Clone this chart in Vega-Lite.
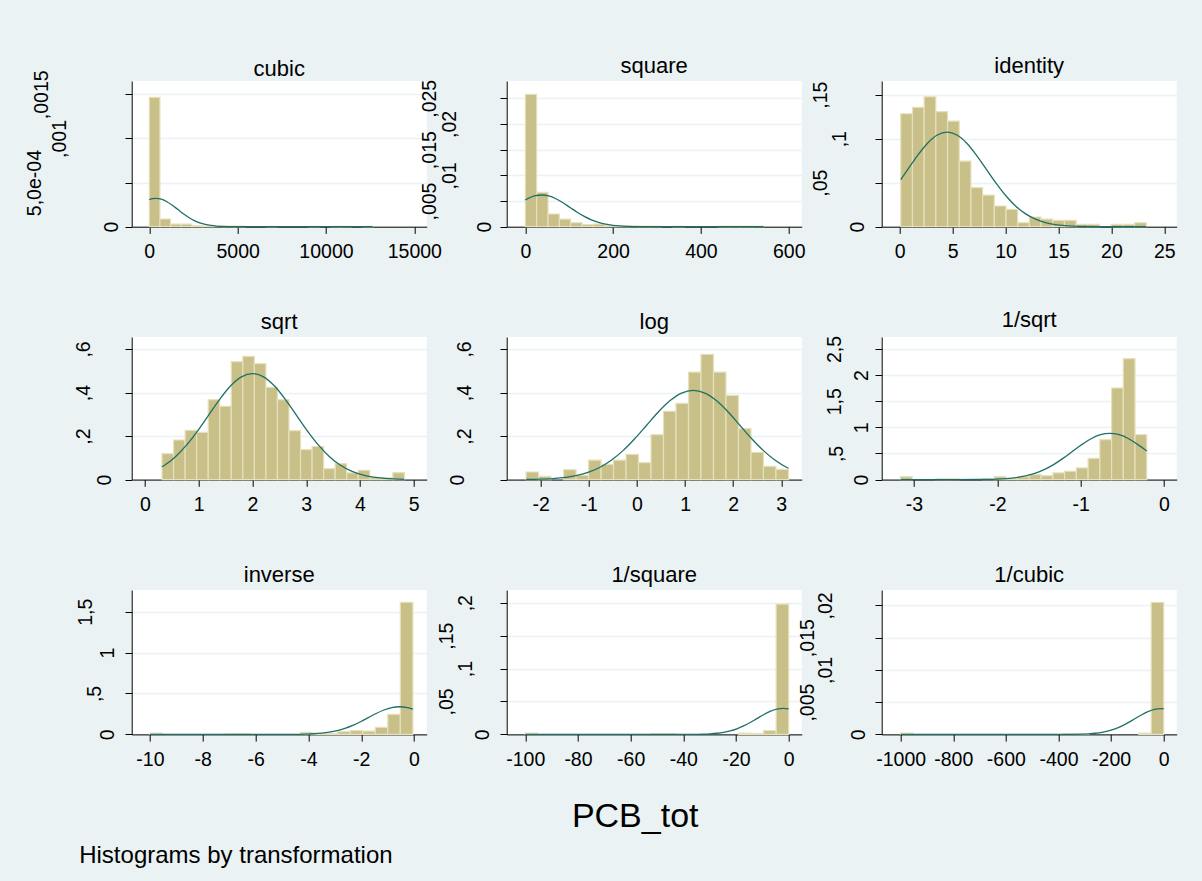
{
  "$schema": "https://vega.github.io/schema/vega-lite/v6.json",
  "autosize": {"type": "none"},
  "padding": {"left": 131.7, "top": 81, "right": 1070.3, "bottom": 800},
  "background": "#EAF2F3",
  "config": {
    "font": "Liberation Sans",
    "view": {"stroke": null, "fill": "white"},
    "axis": {"domainColor": "#000", "domainWidth": 1, "tickColor": "#000", "tickWidth": 1, "tickSize": 6.7, "labelFont": "Liberation Sans", "labelFontSize": 19.5, "labelColor": "#000", "labelFlush": false, "labelOverlap": false, "titleFont": "Liberation Sans", "titleColor": "#000", "titleFontWeight": "normal", "gridColor": "#EAF2F3", "gridWidth": 1.3},
    "axisX": {"grid": false, "labelPadding": 9.5, "labelOverlap": false, "labelExpr": "toString(datum.value)"},
    "axisY": {"grid": true, "labelAngle": 270, "labelAlign": "center", "labelBaseline": "alphabetic", "labelOverlap": false, "labelExpr": "datum.value == 0 ? '0' : datum.value < 0.0009 ? '5,0e-04' : datum.value < 1 ? ',' + substring(toString(datum.value), 2) : replace(toString(datum.value), '.', ',')"},
    "title": {"font": "Liberation Sans", "fontSize": 22, "fontWeight": "normal", "color": "#000", "offset": 3, "baseline": "alphabetic", "anchor": "middle", "frame": "group"}
  },
  "datasets": {
    "bars": [
      {"t":"cubic","x":0.001,"x1":602.3,"y":0.001466},
      {"t":"cubic","x":602.3,"x1":1204.7,"y":0.000087},
      {"t":"cubic","x":1204.7,"x1":1807,"y":0.00003},
      {"t":"cubic","x":1807,"x1":2409.3,"y":0.00003},
      {"t":"cubic","x":2409.3,"x1":3011.6,"y":0.000011},
      {"t":"cubic","x":3011.6,"x1":3614,"y":0.000007},
      {"t":"cubic","x":3614,"x1":4216.3,"y":0.000007},
      {"t":"cubic","x":4216.3,"x1":4818.6,"y":0.000007},
      {"t":"cubic","x":4818.6,"x1":5421,"y":0.000007},
      {"t":"cubic","x":6625.6,"x1":7228,"y":0.000004},
      {"t":"cubic","x":9034.9,"x1":9637.3,"y":0.000004},
      {"t":"cubic","x":10239.6,"x1":10842,"y":0.000004},
      {"t":"cubic","x":10842,"x1":11444.3,"y":0.000004},
      {"t":"cubic","x":12046.6,"x1":12649,"y":0.000004},

      {"t":"square","x":0.01,"x1":25.86,"y":0.02578},
      {"t":"square","x":25.86,"x1":51.71,"y":0.00669},
      {"t":"square","x":51.71,"x1":77.56,"y":0.00247},
      {"t":"square","x":77.56,"x1":103.41,"y":0.00149},
      {"t":"square","x":103.41,"x1":129.26,"y":0.00078},
      {"t":"square","x":129.26,"x1":155.11,"y":0.00039},
      {"t":"square","x":155.11,"x1":180.96,"y":0.00052},
      {"t":"square","x":180.96,"x1":206.81,"y":0.00026},
      {"t":"square","x":206.81,"x1":232.66,"y":0.00017},
      {"t":"square","x":232.66,"x1":258.51,"y":0.00017},
      {"t":"square","x":258.51,"x1":284.36,"y":0.00009},
      {"t":"square","x":284.36,"x1":310.21,"y":0.00009},
      {"t":"square","x":336.06,"x1":361.91,"y":0.00009},
      {"t":"square","x":439.46,"x1":465.31,"y":0.00009},
      {"t":"square","x":465.31,"x1":491.16,"y":0.00009},
      {"t":"square","x":491.16,"x1":517.01,"y":0.00009},
      {"t":"square","x":517.01,"x1":542.86,"y":0.00009},

      {"t":"identity","x":0.1,"x1":1.205,"y":0.1284},
      {"t":"identity","x":1.205,"x1":2.31,"y":0.1356},
      {"t":"identity","x":2.31,"x1":3.414,"y":0.1477},
      {"t":"identity","x":3.414,"x1":4.519,"y":0.1307},
      {"t":"identity","x":4.519,"x1":5.624,"y":0.120},
      {"t":"identity","x":5.624,"x1":6.729,"y":0.0746},
      {"t":"identity","x":6.729,"x1":7.834,"y":0.0443},
      {"t":"identity","x":7.834,"x1":8.938,"y":0.036},
      {"t":"identity","x":8.938,"x1":10.043,"y":0.0235},
      {"t":"identity","x":10.043,"x1":11.148,"y":0.0197},
      {"t":"identity","x":11.148,"x1":12.253,"y":0.0045},
      {"t":"identity","x":12.253,"x1":13.357,"y":0.011},
      {"t":"identity","x":13.357,"x1":14.462,"y":0.0087},
      {"t":"identity","x":14.462,"x1":15.567,"y":0.0072},
      {"t":"identity","x":15.567,"x1":16.671,"y":0.0072},
      {"t":"identity","x":16.671,"x1":17.776,"y":0.0027},
      {"t":"identity","x":17.776,"x1":18.881,"y":0.0027},
      {"t":"identity","x":19.986,"x1":21.09,"y":0.0027},
      {"t":"identity","x":21.09,"x1":22.195,"y":0.0027},
      {"t":"identity","x":22.195,"x1":23.3,"y":0.0045},

      {"t":"sqrt","x":0.316,"x1":0.531,"y":0.119},
      {"t":"sqrt","x":0.531,"x1":0.746,"y":0.182},
      {"t":"sqrt","x":0.746,"x1":0.961,"y":0.226},
      {"t":"sqrt","x":0.961,"x1":1.176,"y":0.217},
      {"t":"sqrt","x":1.176,"x1":1.390,"y":0.367},
      {"t":"sqrt","x":1.390,"x1":1.605,"y":0.337},
      {"t":"sqrt","x":1.605,"x1":1.820,"y":0.542},
      {"t":"sqrt","x":1.820,"x1":2.035,"y":0.566},
      {"t":"sqrt","x":2.035,"x1":2.250,"y":0.533},
      {"t":"sqrt","x":2.250,"x1":2.464,"y":0.424},
      {"t":"sqrt","x":2.464,"x1":2.679,"y":0.367},
      {"t":"sqrt","x":2.679,"x1":2.894,"y":0.225},
      {"t":"sqrt","x":2.894,"x1":3.109,"y":0.138},
      {"t":"sqrt","x":3.109,"x1":3.324,"y":0.152},
      {"t":"sqrt","x":3.324,"x1":3.538,"y":0.050},
      {"t":"sqrt","x":3.538,"x1":3.753,"y":0.073},
      {"t":"sqrt","x":3.753,"x1":3.968,"y":0.031},
      {"t":"sqrt","x":3.968,"x1":4.183,"y":0.043},
      {"t":"sqrt","x":4.183,"x1":4.398,"y":0.009},
      {"t":"sqrt","x":4.398,"x1":4.612,"y":0.009},
      {"t":"sqrt","x":4.612,"x1":4.827,"y":0.032},

      {"t":"log","x":-2.303,"x1":-2.043,"y":0.035},
      {"t":"log","x":-2.043,"x1":-1.784,"y":0.015},
      {"t":"log","x":-1.524,"x1":-1.264,"y":0.046},
      {"t":"log","x":-1.264,"x1":-1.005,"y":0.020},
      {"t":"log","x":-1.005,"x1":-0.745,"y":0.089},
      {"t":"log","x":-0.745,"x1":-0.486,"y":0.070},
      {"t":"log","x":-0.486,"x1":-0.226,"y":0.089},
      {"t":"log","x":-0.226,"x1":0.033,"y":0.116},
      {"t":"log","x":0.033,"x1":0.293,"y":0.078},
      {"t":"log","x":0.293,"x1":0.552,"y":0.207},
      {"t":"log","x":0.552,"x1":0.812,"y":0.314},
      {"t":"log","x":0.812,"x1":1.072,"y":0.350},
      {"t":"log","x":1.072,"x1":1.331,"y":0.494},
      {"t":"log","x":1.331,"x1":1.591,"y":0.575},
      {"t":"log","x":1.591,"x1":1.850,"y":0.494},
      {"t":"log","x":1.850,"x1":2.110,"y":0.387},
      {"t":"log","x":2.110,"x1":2.370,"y":0.234},
      {"t":"log","x":2.370,"x1":2.629,"y":0.125},
      {"t":"log","x":2.629,"x1":2.889,"y":0.061},
      {"t":"log","x":2.889,"x1":3.149,"y":0.047},

      {"t":"1/sqrt","x":-3.162,"x1":-3.022,"y":0.057},
      {"t":"1/sqrt","x":-2.740,"x1":-2.599,"y":0.016},
      {"t":"1/sqrt","x":-2.599,"x1":-2.459,"y":0.016},
      {"t":"1/sqrt","x":-2.177,"x1":-2.037,"y":0.016},
      {"t":"1/sqrt","x":-2.037,"x1":-1.896,"y":0.057},
      {"t":"1/sqrt","x":-1.896,"x1":-1.755,"y":0.016},
      {"t":"1/sqrt","x":-1.755,"x1":-1.614,"y":0.057},
      {"t":"1/sqrt","x":-1.614,"x1":-1.474,"y":0.096},
      {"t":"1/sqrt","x":-1.474,"x1":-1.333,"y":0.077},
      {"t":"1/sqrt","x":-1.333,"x1":-1.192,"y":0.128},
      {"t":"1/sqrt","x":-1.192,"x1":-1.052,"y":0.160},
      {"t":"1/sqrt","x":-1.052,"x1":-0.911,"y":0.223},
      {"t":"1/sqrt","x":-0.911,"x1":-0.770,"y":0.408},
      {"t":"1/sqrt","x":-0.770,"x1":-0.629,"y":0.765},
      {"t":"1/sqrt","x":-0.629,"x1":-0.489,"y":1.754},
      {"t":"1/sqrt","x":-0.489,"x1":-0.348,"y":2.315},
      {"t":"1/sqrt","x":-0.348,"x1":-0.207,"y":0.861},

      {"t":"inverse","x":-10,"x1":-9.526,"y":0.016},
      {"t":"inverse","x":-7.155,"x1":-6.681,"y":0.006},
      {"t":"inverse","x":-6.681,"x1":-6.207,"y":0.006},
      {"t":"inverse","x":-4.311,"x1":-3.837,"y":0.026},
      {"t":"inverse","x":-3.837,"x1":-3.363,"y":0.012},
      {"t":"inverse","x":-3.363,"x1":-2.889,"y":0.008},
      {"t":"inverse","x":-2.889,"x1":-2.415,"y":0.033},
      {"t":"inverse","x":-2.415,"x1":-1.941,"y":0.045},
      {"t":"inverse","x":-1.941,"x1":-1.467,"y":0.041},
      {"t":"inverse","x":-1.467,"x1":-0.993,"y":0.086},
      {"t":"inverse","x":-0.993,"x1":-0.519,"y":0.244},
      {"t":"inverse","x":-0.519,"x1":-0.043,"y":1.614},

      {"t":"1/square","x":-100,"x1":-95.24,"y":0.002},
      {"t":"1/square","x":-52.38,"x1":-47.62,"y":0.001},
      {"t":"1/square","x":-47.62,"x1":-42.86,"y":0.001},
      {"t":"1/square","x":-19.05,"x1":-14.29,"y":0.002},
      {"t":"1/square","x":-14.29,"x1":-9.52,"y":0.0015},
      {"t":"1/square","x":-9.52,"x1":-4.76,"y":0.0056},
      {"t":"1/square","x":-4.76,"x1":-0.002,"y":0.198},

      {"t":"1/cubic","x":-1000,"x1":-952.4,"y":0.0002},
      {"t":"1/cubic","x":-381.0,"x1":-333.3,"y":0.0001},
      {"t":"1/cubic","x":-333.3,"x1":-285.7,"y":0.0001},
      {"t":"1/cubic","x":-95.2,"x1":-47.6,"y":0.0002},
      {"t":"1/cubic","x":-47.6,"x1":0,"y":0.02047}
    ],
    "curves": [
      {"t":"cubic","x":0,"y":0.0003067},{"t":"cubic","x":188,"y":0.0003174},{"t":"cubic","x":376,"y":0.000321},{"t":"cubic","x":687,"y":0.0003111},{"t":"cubic","x":998,"y":0.0002833},{"t":"cubic","x":1308,"y":0.0002423},{"t":"cubic","x":1619,"y":0.0001947},{"t":"cubic","x":1930,"y":0.000147},{"t":"cubic","x":2241,"y":0.0001042},{"t":"cubic","x":2551,"y":0.0000694},{"t":"cubic","x":2862,"y":0.0000434},{"t":"cubic","x":3173,"y":0.0000256},{"t":"cubic","x":3484,"y":0.0000141},{"t":"cubic","x":3794,"y":0.0000073},{"t":"cubic","x":4105,"y":0.0000036},{"t":"cubic","x":4727,"y":0.0000007},{"t":"cubic","x":5348,"y":0.0000001},{"t":"cubic","x":12649,"y":0},

      {"t":"square","x":0.01,"y":0.00523},{"t":"square","x":21.0,"y":0.00598},{"t":"square","x":37.2,"y":0.00617},{"t":"square","x":53.4,"y":0.00598},{"t":"square","x":69.5,"y":0.005445},{"t":"square","x":85.7,"y":0.004657},{"t":"square","x":101.9,"y":0.003742},{"t":"square","x":118.1,"y":0.002825},{"t":"square","x":134.3,"y":0.002003},{"t":"square","x":150.4,"y":0.001335},{"t":"square","x":166.6,"y":0.000835},{"t":"square","x":182.8,"y":0.000491},{"t":"square","x":199.0,"y":0.000271},{"t":"square","x":215.1,"y":0.000141},{"t":"square","x":231.3,"y":0.0000685},{"t":"square","x":263.7,"y":0.0000136},{"t":"square","x":296,"y":0.000002},{"t":"square","x":542.9,"y":0},

      {"t":"identity","x":0.1,"y":0.0535},{"t":"identity","x":0.77,"y":0.0652},{"t":"identity","x":1.70,"y":0.0811},{"t":"identity","x":2.63,"y":0.0949},{"t":"identity","x":3.55,"y":0.1042},{"t":"identity","x":4.48,"y":0.1075},{"t":"identity","x":5.41,"y":0.1042},{"t":"identity","x":6.34,"y":0.0949},{"t":"identity","x":7.26,"y":0.0811},{"t":"identity","x":8.19,"y":0.0652},{"t":"identity","x":9.12,"y":0.0492},{"t":"identity","x":10.05,"y":0.0349},{"t":"identity","x":10.97,"y":0.0233},{"t":"identity","x":11.90,"y":0.01455},{"t":"identity","x":12.83,"y":0.00856},{"t":"identity","x":13.76,"y":0.00472},{"t":"identity","x":14.68,"y":0.00245},{"t":"identity","x":15.61,"y":0.00119},{"t":"identity","x":17.47,"y":0.00024},{"t":"identity","x":19.32,"y":0.000036},{"t":"identity","x":23.3,"y":0},

      {"t":"sqrt","x":0.316,"y":0.0588},{"t":"sqrt","x":0.362,"y":0.0659},{"t":"sqrt","x":0.567,"y":0.1053},{"t":"sqrt","x":0.771,"y":0.1581},{"t":"sqrt","x":0.976,"y":0.2229},{"t":"sqrt","x":1.181,"y":0.2954},{"t":"sqrt","x":1.386,"y":0.3676},{"t":"sqrt","x":1.590,"y":0.4298},{"t":"sqrt","x":1.795,"y":0.4720},{"t":"sqrt","x":2.0,"y":0.487},{"t":"sqrt","x":2.205,"y":0.4720},{"t":"sqrt","x":2.410,"y":0.4298},{"t":"sqrt","x":2.614,"y":0.3676},{"t":"sqrt","x":2.819,"y":0.2954},{"t":"sqrt","x":3.024,"y":0.2229},{"t":"sqrt","x":3.229,"y":0.1581},{"t":"sqrt","x":3.433,"y":0.1053},{"t":"sqrt","x":3.638,"y":0.0659},{"t":"sqrt","x":3.843,"y":0.0388},{"t":"sqrt","x":4.048,"y":0.0214},{"t":"sqrt","x":4.252,"y":0.0111},{"t":"sqrt","x":4.457,"y":0.0054},{"t":"sqrt","x":4.827,"y":0.0013},

      {"t":"log","x":-2.303,"y":0.0007},{"t":"log","x":-2.0,"y":0.002},{"t":"log","x":-1.749,"y":0.00455},{"t":"log","x":-1.263,"y":0.018},{"t":"log","x":-1.0,"y":0.0341},{"t":"log","x":-0.776,"y":0.0555},{"t":"log","x":-0.533,"y":0.0887},{"t":"log","x":-0.290,"y":0.1331},{"t":"log","x":-0.046,"y":0.1877},{"t":"log","x":0.197,"y":0.2487},{"t":"log","x":0.440,"y":0.3095},{"t":"log","x":0.684,"y":0.3618},{"t":"log","x":0.927,"y":0.3974},{"t":"log","x":1.17,"y":0.410},{"t":"log","x":1.413,"y":0.3974},{"t":"log","x":1.657,"y":0.3618},{"t":"log","x":1.900,"y":0.3095},{"t":"log","x":2.143,"y":0.2487},{"t":"log","x":2.386,"y":0.1877},{"t":"log","x":2.630,"y":0.1331},{"t":"log","x":2.873,"y":0.0887},{"t":"log","x":3.116,"y":0.0555},{"t":"log","x":3.148,"y":0.0519},

      {"t":"1/sqrt","x":-3.162,"y":0},{"t":"1/sqrt","x":-2.5,"y":0.0002},{"t":"1/sqrt","x":-2.25,"y":0.0016},{"t":"1/sqrt","x":-2.0,"y":0.00984},{"t":"1/sqrt","x":-1.8875,"y":0.0202},{"t":"1/sqrt","x":-1.775,"y":0.0389},{"t":"1/sqrt","x":-1.6625,"y":0.0706},{"t":"1/sqrt","x":-1.55,"y":0.1199},{"t":"1/sqrt","x":-1.4375,"y":0.1918},{"t":"1/sqrt","x":-1.325,"y":0.2878},{"t":"1/sqrt","x":-1.2125,"y":0.4058},{"t":"1/sqrt","x":-1.10,"y":0.5377},{"t":"1/sqrt","x":-0.9875,"y":0.6691},{"t":"1/sqrt","x":-0.875,"y":0.7823},{"t":"1/sqrt","x":-0.7625,"y":0.8592},{"t":"1/sqrt","x":-0.65,"y":0.8865},{"t":"1/sqrt","x":-0.5375,"y":0.8592},{"t":"1/sqrt","x":-0.425,"y":0.7823},{"t":"1/sqrt","x":-0.3125,"y":0.6691},{"t":"1/sqrt","x":-0.207,"y":0.546},

      {"t":"inverse","x":-10,"y":0},{"t":"inverse","x":-6,"y":0.00001},{"t":"inverse","x":-5.27,"y":0.000113},{"t":"inverse","x":-4.68,"y":0.000744},{"t":"inverse","x":-4.09,"y":0.00375},{"t":"inverse","x":-3.795,"y":0.00771},{"t":"inverse","x":-3.5,"y":0.01484},{"t":"inverse","x":-3.205,"y":0.0269},{"t":"inverse","x":-2.91,"y":0.0457},{"t":"inverse","x":-2.615,"y":0.0731},{"t":"inverse","x":-2.32,"y":0.1097},{"t":"inverse","x":-2.025,"y":0.1547},{"t":"inverse","x":-1.73,"y":0.205},{"t":"inverse","x":-1.435,"y":0.2551},{"t":"inverse","x":-1.14,"y":0.2983},{"t":"inverse","x":-0.845,"y":0.3276},{"t":"inverse","x":-0.55,"y":0.338},{"t":"inverse","x":-0.255,"y":0.3276},{"t":"inverse","x":-0.043,"y":0.3082},

      {"t":"1/square","x":-100,"y":0},{"t":"1/square","x":-45,"y":0.000004},{"t":"1/square","x":-42.4,"y":0.0000132},{"t":"1/square","x":-37.35,"y":0.0000869},{"t":"1/square","x":-32.3,"y":0.000438},{"t":"1/square","x":-29.775,"y":0.0009},{"t":"1/square","x":-27.25,"y":0.001734},{"t":"1/square","x":-24.725,"y":0.003144},{"t":"1/square","x":-22.2,"y":0.005344},{"t":"1/square","x":-19.675,"y":0.008544},{"t":"1/square","x":-17.15,"y":0.012826},{"t":"1/square","x":-14.625,"y":0.018083},{"t":"1/square","x":-12.1,"y":0.023957},{"t":"1/square","x":-9.575,"y":0.029815},{"t":"1/square","x":-7.05,"y":0.034859},{"t":"1/square","x":-4.525,"y":0.038283},{"t":"1/square","x":-2,"y":0.0395},{"t":"1/square","x":-0.002,"y":0.03873},

      {"t":"1/cubic","x":-1000,"y":0},{"t":"1/cubic","x":-450,"y":0.0000002},{"t":"1/cubic","x":-410,"y":0.00000134},{"t":"1/cubic","x":-360,"y":0.0000088},{"t":"1/cubic","x":-310,"y":0.0000443},{"t":"1/cubic","x":-285,"y":0.000091},{"t":"1/cubic","x":-260,"y":0.000175},{"t":"1/cubic","x":-235,"y":0.000318},{"t":"1/cubic","x":-210,"y":0.00054},{"t":"1/cubic","x":-185,"y":0.000863},{"t":"1/cubic","x":-160,"y":0.001296},{"t":"1/cubic","x":-135,"y":0.001827},{"t":"1/cubic","x":-110,"y":0.00242},{"t":"1/cubic","x":-85,"y":0.003012},{"t":"1/cubic","x":-60,"y":0.003521},{"t":"1/cubic","x":-35,"y":0.003867},{"t":"1/cubic","x":-10,"y":0.00399},{"t":"1/cubic","x":0,"y":0.00397}
    ]
  },
  "columns": 3,
  "spacing": {"row": 110, "column": 80},
  "bounds": "flush",
  "concat": [
    {
      "title": {"text": "cubic", "offset": -11}, "width": 295, "height": 145.7,
      "encoding": {
        "x": {"field": "x", "type": "quantitative", "title": null, "scale": {"domain": [-996, 15702], "nice": false, "zero": false}, "axis": {"values": [0, 5000, 10000, 15000]}},
        "y": {"field": "y", "type": "quantitative", "title": null, "scale": {"domain": [0, 0.001651], "nice": false, "zero": false}, "axis": {"values": [0, 0.0005, 0.001, 0.0015], "labelPadding": {"expr": "datum.value == 0 ? 8 : datum.value < 0.0009 ? 85 : datum.value < 0.0012 ? 60 : 78"}}}
      },
      "layer": [
        {"data": {"name": "bars"}, "transform": [{"filter": "datum.t == 'cubic'"}],
         "mark": {"type": "rect", "fill": "#C8C088", "stroke": "#E6E1BC", "strokeWidth": 1.2},
         "encoding": {"x2": {"field": "x1"}, "y2": {"datum": 0}}},
        {"data": {"name": "curves"}, "transform": [{"filter": "datum.t == 'cubic'"}],
         "mark": {"type": "line", "color": "#1F6F66", "strokeWidth": 1.3, "interpolate": "monotone"},
         "encoding": {}}
      ]
    },
    {
      "title": {"text": "square", "offset": 1}, "width": 295, "height": 145.7,
      "encoding": {
        "x": {"field": "x", "type": "quantitative", "title": null, "scale": {"domain": [-42.4, 629.6], "nice": false, "zero": false}, "axis": {"values": [0, 200, 400, 600]}},
        "y": {"field": "y", "type": "quantitative", "title": null, "scale": {"domain": [0, 0.02837], "nice": false, "zero": false}, "axis": {"values": [0, 0.005, 0.01, 0.015, 0.02, 0.025], "labelPadding": {"expr": "datum.value == 0 ? 10 : (datum.value == 0.01 || datum.value == 0.02) ? 45 : 65"}}}
      },
      "layer": [
        {"data": {"name": "bars"}, "transform": [{"filter": "datum.t == 'square'"}],
         "mark": {"type": "rect", "fill": "#C8C088", "stroke": "#E6E1BC", "strokeWidth": 1.2},
         "encoding": {"x2": {"field": "x1"}, "y2": {"datum": 0}}},
        {"data": {"name": "curves"}, "transform": [{"filter": "datum.t == 'square'"}],
         "mark": {"type": "line", "color": "#1F6F66", "strokeWidth": 1.3, "interpolate": "monotone"},
         "encoding": {}}
      ]
    },
    {
      "title": "identity", "width": 295, "height": 145.7,
      "encoding": {
        "x": {"field": "x", "type": "quantitative", "title": null, "scale": {"domain": [-1.70, 26.17], "nice": false, "zero": false}, "axis": {"values": [0, 5, 10, 15, 20, 25]}},
        "y": {"field": "y", "type": "quantitative", "title": null, "scale": {"domain": [0, 0.1656], "nice": false, "zero": false}, "axis": {"values": [0, 0.05, 0.1, 0.15], "labelPadding": {"expr": "datum.value == 0 ? 12 : datum.value == 0.1 ? 30 : 49"}}}
      },
      "layer": [
        {"data": {"name": "bars"}, "transform": [{"filter": "datum.t == 'identity'"}],
         "mark": {"type": "rect", "fill": "#C8C088", "stroke": "#E6E1BC", "strokeWidth": 1.2},
         "encoding": {"x2": {"field": "x1"}, "y2": {"datum": 0}}},
        {"data": {"name": "curves"}, "transform": [{"filter": "datum.t == 'identity'"}],
         "mark": {"type": "line", "color": "#1F6F66", "strokeWidth": 1.3, "interpolate": "monotone"},
         "encoding": {}}
      ]
    },
    {
      "title": "sqrt", "width": 295, "height": 142.6,
      "encoding": {
        "x": {"field": "x", "type": "quantitative", "title": null, "scale": {"domain": [-0.248, 5.242], "nice": false, "zero": false}, "axis": {"values": [0, 1, 2, 3, 4, 5]}},
        "y": {"field": "y", "type": "quantitative", "title": null, "scale": {"domain": [0, 0.655], "nice": false, "zero": false}, "axis": {"values": [0, 0.2, 0.4, 0.6], "labelPadding": {"expr": "datum.value == 0 ? 15 : 36"}}}
      },
      "layer": [
        {"data": {"name": "bars"}, "transform": [{"filter": "datum.t == 'sqrt'"}],
         "mark": {"type": "rect", "fill": "#C8C088", "stroke": "#E6E1BC", "strokeWidth": 1.2},
         "encoding": {"x2": {"field": "x1"}, "y2": {"datum": 0}}},
        {"data": {"name": "curves"}, "transform": [{"filter": "datum.t == 'sqrt'"}],
         "mark": {"type": "line", "color": "#1F6F66", "strokeWidth": 1.3, "interpolate": "monotone"},
         "encoding": {}}
      ]
    },
    {
      "title": "log", "width": 295, "height": 142.6,
      "encoding": {
        "x": {"field": "x", "type": "quantitative", "title": null, "scale": {"domain": [-2.706, 3.424], "nice": false, "zero": false}, "axis": {"values": [-2, -1, 0, 1, 2, 3]}},
        "y": {"field": "y", "type": "quantitative", "title": null, "scale": {"domain": [0, 0.655], "nice": false, "zero": false}, "axis": {"values": [0, 0.2, 0.4, 0.6], "labelPadding": {"expr": "datum.value == 0 ? 37 : 30"}}}
      },
      "layer": [
        {"data": {"name": "bars"}, "transform": [{"filter": "datum.t == 'log'"}],
         "mark": {"type": "rect", "fill": "#C8C088", "stroke": "#E6E1BC", "strokeWidth": 1.2},
         "encoding": {"x2": {"field": "x1"}, "y2": {"datum": 0}}},
        {"data": {"name": "curves"}, "transform": [{"filter": "datum.t == 'log'"}],
         "mark": {"type": "line", "color": "#1F6F66", "strokeWidth": 1.3, "interpolate": "monotone"},
         "encoding": {}}
      ]
    },
    {
      "title": "1/sqrt", "width": 295, "height": 142.6,
      "encoding": {
        "x": {"field": "x", "type": "quantitative", "title": null, "scale": {"domain": [-3.387, 0.152], "nice": false, "zero": false}, "axis": {"values": [-3, -2, -1, 0]}},
        "y": {"field": "y", "type": "quantitative", "title": null, "scale": {"domain": [0, 2.73], "nice": false, "zero": false}, "axis": {"values": [0, 0.5, 1, 1.5, 2, 2.5], "labelPadding": {"expr": "datum.value == 0.5 ? 33 : (datum.value == 1.5 || datum.value == 2.5) ? 35 : 8"}}}
      },
      "layer": [
        {"data": {"name": "bars"}, "transform": [{"filter": "datum.t == '1/sqrt'"}],
         "mark": {"type": "rect", "fill": "#C8C088", "stroke": "#E6E1BC", "strokeWidth": 1.2},
         "encoding": {"x2": {"field": "x1"}, "y2": {"datum": 0}}},
        {"data": {"name": "curves"}, "transform": [{"filter": "datum.t == '1/sqrt'"}],
         "mark": {"type": "line", "color": "#1F6F66", "strokeWidth": 1.3, "interpolate": "monotone"},
         "encoding": {}}
      ]
    },
    {
      "title": "inverse", "width": 295, "height": 144.4,
      "encoding": {
        "x": {"field": "x", "type": "quantitative", "title": "Histograms by transformation", "scale": {"domain": [-10.69, 0.48], "nice": false, "zero": false}, "axis": {"values": [-10, -8, -6, -4, -2, 0], "titleFontSize": 24, "titleX": -53, "titleY": 128, "titleAlign": "left", "titleBaseline": "alphabetic"}},
        "y": {"field": "y", "type": "quantitative", "title": null, "scale": {"domain": [0, 1.765], "nice": false, "zero": false}, "axis": {"values": [0, 0.5, 1, 1.5], "labelPadding": {"expr": "datum.value == 1.5 ? 34 : datum.value == 0.5 ? 25 : 12"}}}
      },
      "layer": [
        {"data": {"name": "bars"}, "transform": [{"filter": "datum.t == 'inverse'"}],
         "mark": {"type": "rect", "fill": "#C8C088", "stroke": "#E6E1BC", "strokeWidth": 1.2},
         "encoding": {"x2": {"field": "x1"}, "y2": {"datum": 0}}},
        {"data": {"name": "curves"}, "transform": [{"filter": "datum.t == 'inverse'"}],
         "mark": {"type": "line", "color": "#1F6F66", "strokeWidth": 1.3, "interpolate": "monotone"},
         "encoding": {}}
      ]
    },
    {
      "title": "1/square", "width": 295, "height": 144.4,
      "encoding": {
        "x": {"field": "x", "type": "quantitative", "title": "PCB_tot", "scale": {"domain": [-107.06, 4.94], "nice": false, "zero": false}, "axis": {"values": [-100, -80, -60, -40, -20, 0], "titleFontSize": 34, "titleX": 128, "titleY": 92, "titleAlign": "center", "titleBaseline": "alphabetic"}},
        "y": {"field": "y", "type": "quantitative", "title": null, "scale": {"domain": [0, 0.2193], "nice": false, "zero": false}, "axis": {"values": [0, 0.05, 0.1, 0.15, 0.2], "labelPadding": {"expr": "datum.value == 0 ? 12 : (datum.value == 0.1 || datum.value == 0.2) ? 29 : 48"}}}
      },
      "layer": [
        {"data": {"name": "bars"}, "transform": [{"filter": "datum.t == '1/square'"}],
         "mark": {"type": "rect", "fill": "#C8C088", "stroke": "#E6E1BC", "strokeWidth": 1.2},
         "encoding": {"x2": {"field": "x1"}, "y2": {"datum": 0}}},
        {"data": {"name": "curves"}, "transform": [{"filter": "datum.t == '1/square'"}],
         "mark": {"type": "line", "color": "#1F6F66", "strokeWidth": 1.3, "interpolate": "monotone"},
         "encoding": {}}
      ]
    },
    {
      "title": "1/cubic", "width": 295, "height": 144.4,
      "encoding": {
        "x": {"field": "x", "type": "quantitative", "title": null, "scale": {"domain": [-1072, 49.3], "nice": false, "zero": false}, "axis": {"values": [-1000, -800, -600, -400, -200, 0]}},
        "y": {"field": "y", "type": "quantitative", "title": null, "scale": {"domain": [0, 0.02239], "nice": false, "zero": false}, "axis": {"values": [0, 0.005, 0.01, 0.015, 0.02], "labelPadding": {"expr": "datum.value == 0 ? 11 : (datum.value == 0.01 || datum.value == 0.02) ? 44 : 62"}}}
      },
      "layer": [
        {"data": {"name": "bars"}, "transform": [{"filter": "datum.t == '1/cubic'"}],
         "mark": {"type": "rect", "fill": "#C8C088", "stroke": "#E6E1BC", "strokeWidth": 1.2},
         "encoding": {"x2": {"field": "x1"}, "y2": {"datum": 0}}},
        {"data": {"name": "curves"}, "transform": [{"filter": "datum.t == '1/cubic'"}],
         "mark": {"type": "line", "color": "#1F6F66", "strokeWidth": 1.3, "interpolate": "monotone"},
         "encoding": {}}
      ]
    }
  ]
}
